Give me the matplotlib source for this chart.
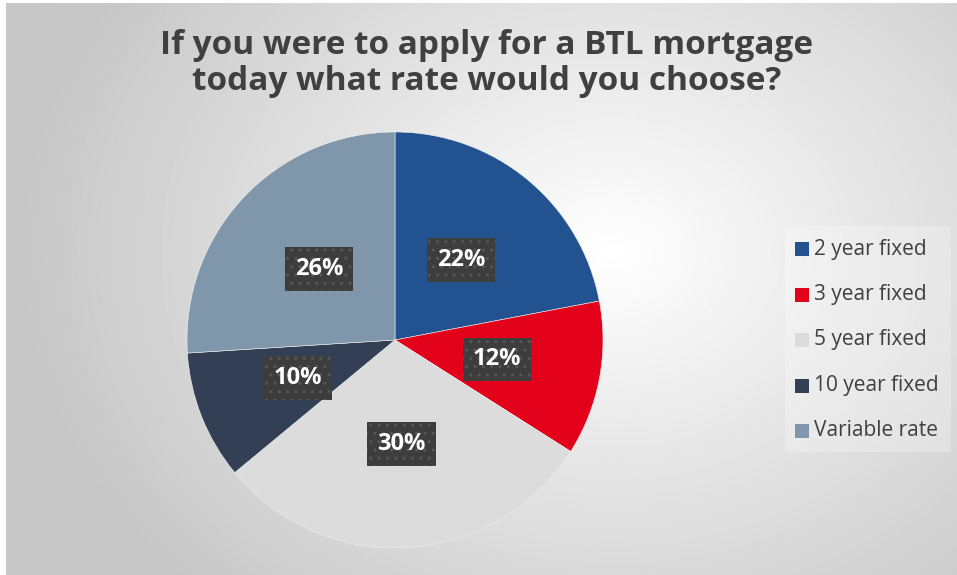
import numpy as np
import matplotlib

matplotlib.use('Agg')
import matplotlib.pyplot as plt
from matplotlib.patches import Rectangle

categories = ['2 year fixed', '3 year fixed', '5 year fixed', '10 year fixed', 'Variable rate']
shares = [22, 12, 30, 10, 26]
colors = ['#22528F', '#E2001A', '#DCDCDC', '#333F55', '#8096AB']
title = 'If you were to apply for a BTL mortgage\ntoday what rate would you choose?'

W, H = 957, 575
fig = plt.figure(figsize=(W / 100, H / 100), dpi=100)
fig.patch.set_facecolor('white')

# radial gradient background
bg = fig.add_axes([6 / W, 0, 1 - 6 / W, 1 - 3 / H])
bg.set_axis_off()
yy, xx = np.mgrid[0:H, 0:W]
d = np.sqrt(((xx - 610) / 700.0) ** 2 + ((yy - 250) / 560.0) ** 2)
d = np.clip(d / 0.85, 0, 1)
shade = 1.0 - 0.22 * d
bg.imshow(shade, cmap='gray', vmin=0, vmax=1, aspect='auto', extent=[0, 1, 0, 1])
bg.set_xlim(0, 1)
bg.set_ylim(0, 1)

# legend backdrop
ov = fig.add_axes([0, 0, 1, 1], facecolor='none')
ov.set_axis_off()
ov.set_xlim(0, W)
ov.set_ylim(H, 0)
ov.add_patch(Rectangle((785, 226), 166, 226, facecolor='white', alpha=0.25, edgecolor='none'))

R = 208
cx, cy = 395, 340
ax = fig.add_axes([(cx - R) / W, 1 - (cy + R) / H, 2 * R / W, 2 * R / H])
ax.set_aspect('equal')
wedges, texts, autotexts = ax.pie(
    shares, colors=colors, startangle=90, counterclock=False, radius=1,
    autopct='%d%%', pctdistance=0.5,
    wedgeprops=dict(linewidth=0.4, edgecolor='#f0f0f0'),
    textprops=dict(color='white', fontsize=17, fontweight='bold', family='Open Sans'))
for t in autotexts:
    t.set_bbox(dict(boxstyle='square,pad=0.42', facecolor='#3d3d3d', edgecolor='#575757',
                    linewidth=0, hatch='..'))
ax.set_xlim(-1, 1)
ax.set_ylim(-1, 1)

fig.text(487 / W, 1 - 63 / H, title, ha='center', va='center', fontsize=24,
         fontweight='bold', color='#404040', family='Open Sans', linespacing=1.12)

for i, (name, col) in enumerate(zip(categories, colors)):
    y = 249 + i * 45.5
    ov.add_patch(Rectangle((795, y - 7), 14, 14, facecolor=col, edgecolor='none'))
    ov.text(814, y, name, va='center', ha='left', fontsize=15, color='#404040',
            family='Open Sans')

fig.savefig('out.png', dpi=100)
plt.close(fig)
